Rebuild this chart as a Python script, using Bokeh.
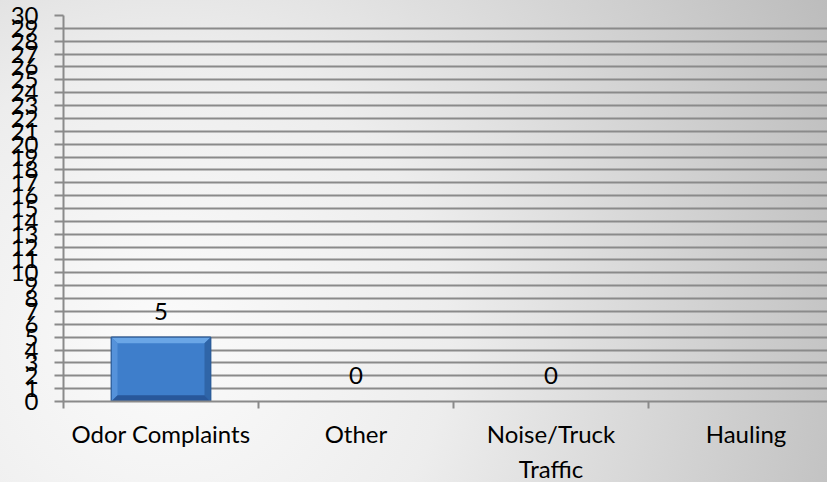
from bokeh.plotting import figure
from bokeh.models import FixedTicker, ColumnDataSource
from bokeh.core.properties import value
from bokeh.embed import file_html
from bokeh.resources import INLINE

# Data
categories = ["Odor Complaints", "Other", "Noise/Truck\nTraffic", "Hauling"]
counts = [5, 0, 0, None]
y_ticks = list(range(0, 31))

FONT = "Lato"
FONT_SIZE = "24px"
GRID = "#8a8a8a"

slot_pos = [i + 0.5 for i in range(len(categories))]
bar_width = 0.51

p = figure(
    frame_width=764, frame_height=386,
    x_range=(0, 3.918), y_range=(0, 30),
    output_backend="svg", toolbar_location=None,
    min_border_left=63, min_border_right=0, min_border_top=15, min_border_bottom=0,
)
p.styles = {
    "background": "radial-gradient(circle farthest-corner at 20% 70%, #fbfbfb 0%, #ededed 38%, #bcbcbc 100%)"
}
p.border_fill_color = None
p.background_fill_color = None
p.outline_line_color = None

# Horizontal grid
p.xgrid.visible = False
p.ygrid.grid_line_color = GRID
p.ygrid.grid_line_width = 2

# Y axis
p.yaxis.ticker = FixedTicker(ticks=y_ticks, minor_ticks=[])
p.yaxis.axis_line_color = GRID
p.yaxis.axis_line_width = 2
p.yaxis.major_tick_line_color = GRID
p.yaxis.major_tick_line_width = 2
p.yaxis.major_tick_out = 9
p.yaxis.major_tick_in = 0
p.yaxis.major_label_standoff = 16
p.yaxis.major_label_text_font = FONT
p.yaxis.major_label_text_font_size = FONT_SIZE
p.yaxis.major_label_text_color = "black"

# X axis: labels centred in slots, small ticks on slot boundaries
p.xaxis.ticker = FixedTicker(ticks=slot_pos, minor_ticks=list(range(len(categories) + 1)))
p.xaxis.major_label_overrides = {pos: name for pos, name in zip(slot_pos, categories)}
p.xaxis.axis_line_color = GRID
p.xaxis.axis_line_width = 2
p.xaxis.major_tick_out = 0
p.xaxis.major_tick_in = 0
p.xaxis.minor_tick_line_color = GRID
p.xaxis.minor_tick_line_width = 2
p.xaxis.minor_tick_out = 7
p.xaxis.minor_tick_in = 0
p.xaxis.major_label_standoff = 10
p.xaxis.major_label_text_font = FONT
p.xaxis.major_label_text_font_size = FONT_SIZE
p.xaxis.major_label_text_color = "black"
p.xaxis.major_label_text_line_height = 1.22

# Bars with a bevelled look
bx = [x for x, v in zip(slot_pos, counts) if v is not None and v > 0]
bv = [v for v in counts if v is not None and v > 0]
p.vbar(x=bx, top=bv, width=bar_width, bottom=0,
       fill_color="#3e7ecb", line_color="#2c5c98", line_width=1)

bev_x = 0.032
bev_y = 0.48
for x, v in zip(bx, bv):
    l, r = x - bar_width / 2, x + bar_width / 2
    # top facet
    p.patch([l, r, r - bev_x, l + bev_x], [v, v, v - bev_y, v - bev_y],
            fill_color="#6aa6e6", line_color=None)
    # left facet
    p.patch([l, l + bev_x, l + bev_x, l], [v, v - bev_y, bev_y, 0],
            fill_color="#5592da", line_color=None)
    # right facet
    p.patch([r, r, r - bev_x, r - bev_x], [v, 0, bev_y, v - bev_y],
            fill_color="#2f65a8", line_color=None)
    # bottom facet
    p.patch([l, r, r - bev_x, l + bev_x], [0, 0, bev_y, bev_y],
            fill_color="#28579a", line_color=None)
    p.quad(left=[l], right=[r], bottom=[0], top=[v],
           fill_color=None, line_color="#2c5c98", line_width=1)

# Value labels
lx = [x for x, v in zip(slot_pos, counts) if v is not None]
lv = [v for v in counts if v is not None]
src = ColumnDataSource(dict(x=lx, y=lv, t=[str(v) for v in lv]))
p.text(x="x", y="y", text="t", source=src, y_offset=-26,
       text_align="center", text_baseline="middle",
       text_font=value(FONT), text_font_size=FONT_SIZE, text_color="black")

open("out.html", "w").write(file_html(p, INLINE))
